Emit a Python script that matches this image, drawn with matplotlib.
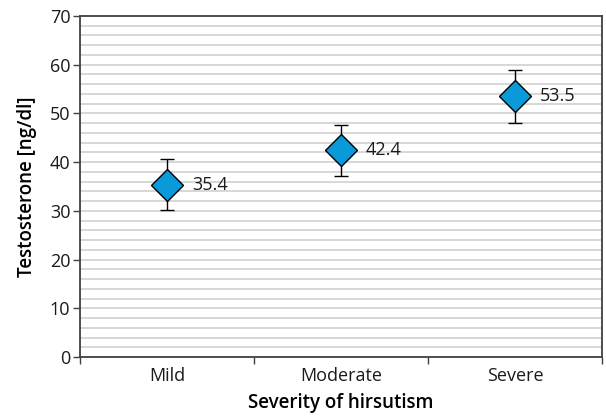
import matplotlib.pyplot as plt
import numpy as np

plt.rcParams['font.family'] = ['Open Sans', 'DejaVu Sans']

categories = ['Mild', 'Moderate', 'Severe']
means = [35.4, 42.4, 53.5]
errors = [5.3, 5.3, 5.4]
y_ticks = [0, 10, 20, 30, 40, 50, 60, 70]

fig = plt.figure(figsize=(6.06, 4.18), dpi=100)
ax = fig.add_axes([80 / 606, 1 - 357 / 418, 522 / 606, 341 / 418])

x = np.arange(len(categories))

# minor grid every 2 units
for g in np.arange(2, 70, 2):
    ax.axhline(g, color='#d4d4d4', lw=1.3, zorder=0)

ax.errorbar(x, means, yerr=errors, fmt='none', ecolor='black', elinewidth=1,
            capsize=5, capthick=1, zorder=2)
ax.plot(x, means, 'D', ms=16.5, mfc='#0a99d9', mec='black', mew=1, zorder=3)

for xi, m in zip(x, means):
    ax.annotate(f'{m}', (xi, m), xytext=(18, 0), textcoords='offset points',
                va='center', ha='left', fontsize=13, color='#1a1a1a')

ax.set_xlim(-0.5, 2.5)
ax.set_ylim(0, 70)
ax.set_yticks(y_ticks)
ax.set_yticklabels([str(t) for t in y_ticks], fontsize=13, color='#1a1a1a')

ax.set_xticks(x)
ax.set_xticklabels(categories, fontsize=13, color='#1a1a1a')
ax.tick_params(axis='x', length=0, pad=7)
ax.set_xticks(np.arange(-0.5, 3, 1), minor=True)
ax.tick_params(axis='x', which='minor', length=5, width=1, color='#404040')
ax.tick_params(axis='y', length=5, width=1, color='#404040', pad=2)

for s in ax.spines.values():
    s.set_color('#404040')
    s.set_linewidth(1.3)

ax.set_ylabel('Testosterone [ng/dl]', fontsize=13.5, fontweight='semibold', labelpad=9)
ax.set_xlabel('Severity of hirsutism', fontsize=13.5, fontweight='semibold', labelpad=6)

fig.savefig('out.png', dpi=100)
